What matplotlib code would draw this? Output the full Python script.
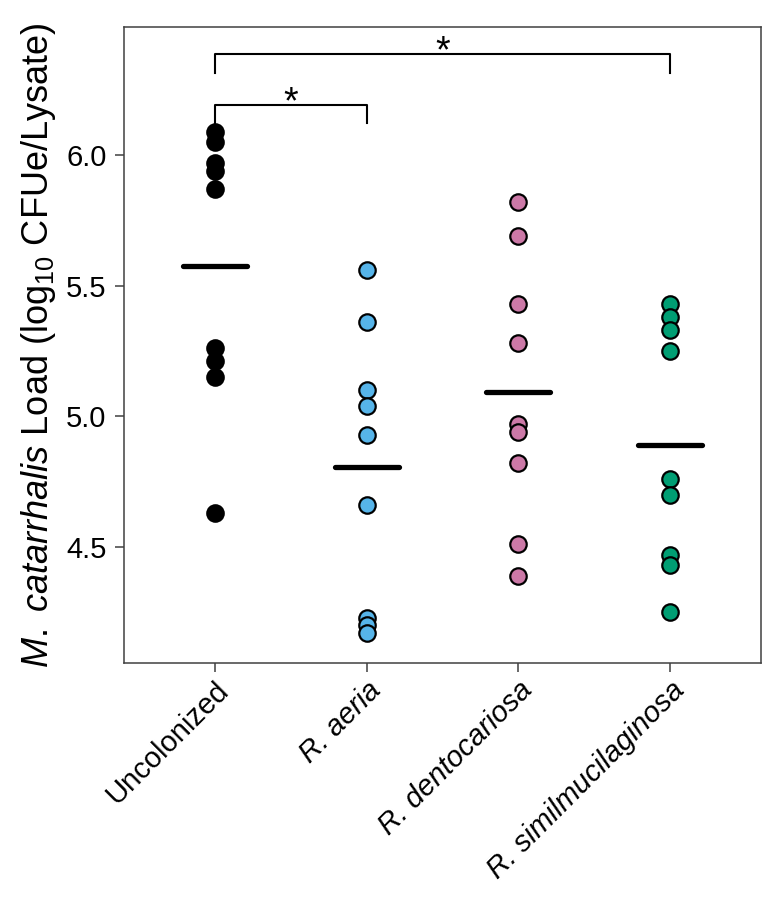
import matplotlib
matplotlib.use('Agg')
import matplotlib.pyplot as plt
import numpy as np

plt.rcParams.update({
    'font.family': ['Liberation Sans', 'DejaVu Sans'],
    'mathtext.fontset': 'custom',
    'mathtext.rm': 'Liberation Sans',
    'mathtext.it': 'Liberation Sans:italic',
})

groups = ['Uncolonized', 'R. aeria', 'R. dentocariosa', 'R. similmucilaginosa']
italic = [False, True, True, True]
colors = ['#000000', '#56B4E9', '#CC79A7', '#009E73']

uncolonized = [6.09, 6.05, 5.97, 5.94, 5.87, 5.26, 5.21, 5.15, 4.63]
aeria = [5.56, 5.36, 5.10, 5.04, 4.93, 4.66, 4.23, 4.20, 4.17]
dentocariosa = [5.82, 5.69, 5.43, 5.28, 4.97, 4.94, 4.82, 4.51, 4.39]
similmucilaginosa = [5.43, 5.38, 5.33, 5.25, 4.76, 4.70, 4.47, 4.43, 4.25]
values = [uncolonized, aeria, dentocariosa, similmucilaginosa]

# significance brackets: (group a, group b, bracket height, leg bottom)
brackets = [(0, 3, 6.387, 6.314), (0, 1, 6.191, 6.122)]

fig = plt.figure(figsize=(7.62, 9.05), dpi=100)
ax = fig.add_axes([124 / 762, 1 - 663 / 905, 637 / 762, 636 / 905])

for i, (vals, c) in enumerate(zip(values, colors)):
    ax.scatter(np.full(len(vals), i), vals, s=140, color=c, edgecolor='black',
               linewidth=1.6, zorder=3)
    m = np.mean(vals)
    ax.plot([i - 0.21, i + 0.21], [m, m], color='black', lw=3.8,
            solid_capstyle='round', zorder=4)

for a, b, h, leg in brackets:
    ax.plot([a, a, b, b], [leg, h, h, leg], color='black', lw=1.5)
    ax.annotate('*', xy=((a + b) / 2, h), xytext=(0, -6), textcoords='offset points',
                ha='center', va='baseline', fontsize=27)

ax.set_xlim(-0.60, 3.60)
ax.set_ylim(4.056, 6.49)
ax.set_yticks([4.5, 5.0, 5.5, 6.0])
ax.set_yticklabels(['4.5', '5.0', '5.5', '6.0'])
ax.set_xticks(range(len(groups)))
ax.set_xticklabels(groups, rotation=45, ha='right', rotation_mode='anchor')
for lab, it in zip(ax.get_xticklabels(), italic):
    if it:
        lab.set_style('italic')
ax.tick_params(labelsize=21, length=6.5, width=1.1, direction='out', pad=6,
               color='#404040')
ax.tick_params(axis='x', pad=3)
for s in ax.spines.values():
    s.set_linewidth(1.1)
    s.set_color('#404040')

ax.set_ylabel(r'$\mathit{M.\ catarrhalis}$ Load $\left(\mathrm{log_{10}\ CFUe/Lysate}\right)$',
              fontsize=26, labelpad=6)

fig.savefig('out.png', dpi=100)
